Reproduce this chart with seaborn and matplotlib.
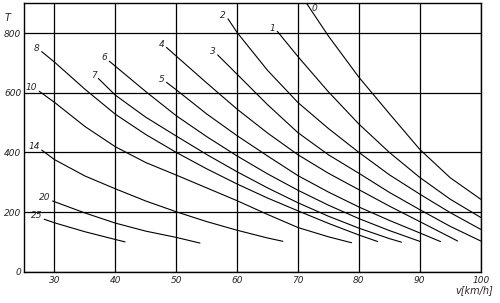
import numpy as np
import pandas as pd
import matplotlib
matplotlib.use("Agg")
import matplotlib.pyplot as plt
import seaborn as sns

# ---- data ----
curve_labels = ["0", "1", "2", "3", "4", "5", "6", "7", "8", "10", "14", "20", "25"]

v_c0 = [71.4, 75, 80, 85, 90, 95, 100]
t_c0 = [900, 790, 652, 530, 410, 315, 243]
v_c1 = [66.6, 70, 75, 80, 85, 90, 95, 100]
t_c1 = [806, 721, 603, 495, 400, 316, 243, 182]
v_c2 = [58.5, 60, 65, 70, 75, 80, 85, 90, 95, 100]
t_c2 = [848, 802, 675, 567, 480, 400, 325, 260, 198, 142]
v_c3 = [56.8, 60, 65, 70, 75, 80, 85, 90, 95, 100]
t_c3 = [727, 662, 560, 466, 392, 330, 266, 208, 152, 103]
v_c4 = [48.4, 50, 55, 60, 65, 70, 75, 80, 85, 90, 96.2]
t_c4 = [752, 723, 633, 545, 465, 392, 330, 275, 220, 168, 103]
v_c5 = [48.4, 50, 55, 60, 65, 70, 75, 80, 85, 90, 93.4]
t_c5 = [635, 610, 529, 456, 388, 322, 267, 217, 172, 130, 101]
v_c6 = [39, 40, 45, 50, 55, 60, 65, 70, 75, 80, 85, 90.1]
t_c6 = [706, 689, 604, 523, 453, 388, 328, 273, 223, 178, 138, 101]
v_c7 = [37.2, 40, 45, 50, 55, 60, 65, 70, 75, 80, 85, 87]
t_c7 = [648, 592, 518, 455, 393, 335, 281, 231, 186, 146, 111, 99]
v_c8 = [27.9, 30, 35, 40, 45, 50, 55, 60, 65, 70, 75, 80, 83.1]
t_c8 = [738, 703, 612, 528, 460, 400, 345, 294, 247, 204, 162, 123, 101]
v_c10 = [27.5, 30, 35, 40, 45, 50, 55, 60, 65, 70, 75, 78.8]
t_c10 = [605, 568, 487, 419, 366, 324, 281, 238, 192, 148, 117, 97]
v_c14 = [27.9, 30, 35, 40, 45, 50, 55, 60, 65, 67.5]
t_c14 = [408, 376, 321, 278, 237, 201, 168, 139, 113, 102]
v_c20 = [29.7, 35, 40, 45, 50, 53.9]
t_c20 = [237, 197, 163, 136, 115, 96]
v_c25 = [28.3, 30, 35, 40, 41.6]
t_c25 = [176, 164, 134, 108, 100]

x_ticks = [30, 40, 50, 60, 70, 80, 90, 100]
y_ticks = [0, 200, 400, 600, 800]

v_series = [v_c0, v_c1, v_c2, v_c3, v_c4, v_c5, v_c6, v_c7, v_c8, v_c10, v_c14, v_c20, v_c25]
t_series = [t_c0, t_c1, t_c2, t_c3, t_c4, t_c5, t_c6, t_c7, t_c8, t_c10, t_c14, t_c20, t_c25]

rows = []
for lab, vs, ts in zip(curve_labels, v_series, t_series):
    for v, t in zip(vs, ts):
        rows.append({"curve": lab, "v": v, "T": t})
df = pd.DataFrame(rows)

sns.set_style("white")
plt.rcParams["font.family"] = ["DejaVu Sans"]

fig = plt.figure(figsize=(5.0, 3.03), dpi=100)
ax = fig.add_axes([24 / 500, 1 - 271.7 / 303, (480.7 - 24) / 500, (271.7 - 3.3) / 303])

sns.lineplot(data=df, x="v", y="T", units="curve", estimator=None, sort=False,
             color="black", linewidth=0.8, ax=ax, legend=False)

ax.set_xlim(25, 100)
ax.set_ylim(0, 900)
ax.set_xticks(x_ticks)
ax.set_xticklabels([str(x) for x in x_ticks], fontsize=6.5, style="italic")
ax.set_yticks(y_ticks)
ax.set_yticklabels([str(y) for y in y_ticks], fontsize=6.5, style="italic")
ax.tick_params(axis="both", length=0)
ax.tick_params(axis="x", pad=3)
ax.tick_params(axis="y", pad=2)
ax.grid(True, color="black", linewidth=0.9)
ax.set_axisbelow(True)
for s in ax.spines.values():
    s.set_color("black")
    s.set_linewidth(1.0)
ax.set_xlabel("")
ax.set_ylabel("")

# curve labels near the start of each curve
for lab, vs, ts in zip(curve_labels, v_series, t_series):
    if ts[0] >= 900:
        # curve enters from the top border: label sits to its right
        ax.text(vs[0] + 0.9, 882, lab, fontsize=6.5, style="italic",
                ha="left", va="center", clip_on=False)
    else:
        ax.text(vs[0] - 0.3, ts[0] + 11, lab, fontsize=6.5, style="italic",
                ha="right", va="center", clip_on=False)

ax.text(-0.035, 0.945, "T", transform=ax.transAxes, fontsize=7, style="italic",
        ha="center", va="center")
ax.text(99, -62, "v[km/h]", fontsize=7, style="italic", ha="center", va="center",
        clip_on=False)

fig.savefig("out.png", dpi=100)
